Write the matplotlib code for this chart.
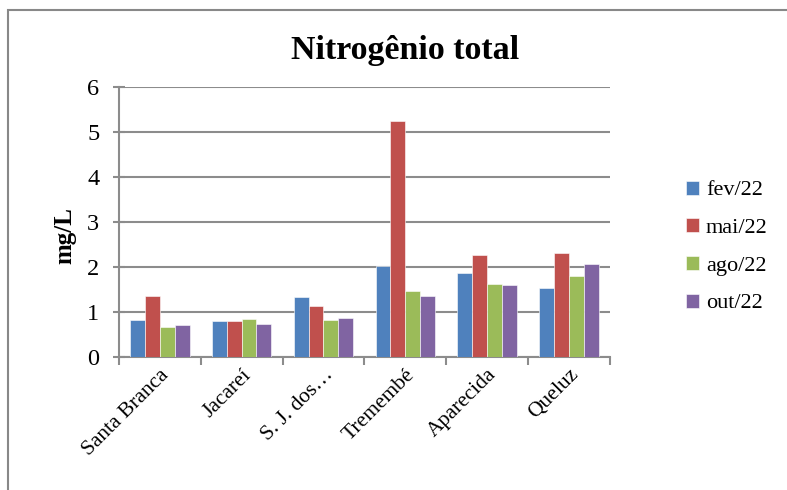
import matplotlib.pyplot as plt
import numpy as np
from matplotlib.patches import Rectangle

plt.rcParams['font.family'] = ['Liberation Serif', 'DejaVu Serif']

sites = ['Santa Branca', 'Jacareí', 'S. J. dos…', 'Tremembé', 'Aparecida', 'Queluz']
series_names = ['fev/22', 'mai/22', 'ago/22', 'out/22']
fev22 = [0.82, 0.80, 1.33, 2.02, 1.88, 1.54]
mai22 = [1.36, 0.81, 1.13, 5.25, 2.27, 2.32]
ago22 = [0.67, 0.84, 0.82, 1.47, 1.63, 1.80]
out22 = [0.71, 0.74, 0.87, 1.37, 1.61, 2.08]
y_ticks = [0, 1, 2, 3, 4, 5, 6]

colors = ['#4F81BD', '#C0504D', '#9BBB59', '#8064A2']
grid_c = '#8C8C8C'

fig = plt.figure(figsize=(7.87, 4.90), dpi=100)
ax = fig.add_axes([0.151, 0.271, 0.624, 0.551])

x = np.arange(len(sites))
w = 1 / 5.5
for i, (vals, name) in enumerate(zip([fev22, mai22, ago22, out22], series_names)):
    ax.bar(x + (i - 1.5) * w, vals, width=w, color=colors[i], label=name,
           edgecolor='white', linewidth=0.4, zorder=3)

ax.set_xlim(-0.5, len(sites) - 0.5)
ax.set_ylim(0, 6)
ax.set_yticks(y_ticks)
ax.set_yticklabels([str(t) for t in y_ticks], fontsize=17.5)
ax.yaxis.grid(True, color=grid_c, linewidth=1.5, zorder=0)
ax.set_axisbelow(True)

ax.set_xticks(np.arange(len(sites) + 1) - 0.5)
ax.set_xticklabels([])
ax.set_xticks(x, minor=True)
ax.set_xticklabels(sites, minor=True, rotation=45, ha='right',
                   rotation_mode='anchor', fontsize=15.5)
ax.tick_params(axis='x', which='minor', length=0, pad=6)
ax.tick_params(axis='x', which='major', length=6, width=1.5, color=grid_c)
ax.tick_params(axis='y', length=8, width=1.5, color=grid_c, direction='inout', pad=10)

for s in ['top', 'right']:
    ax.spines[s].set_visible(False)
for s in ['left', 'bottom']:
    ax.spines[s].set_color(grid_c)
    ax.spines[s].set_linewidth(1.5)

ax.set_ylabel('mg/L', fontsize=18, fontweight='bold')
ax.yaxis.set_label_coords(-0.087, 0.45)

fig.text(405 / 787, 1 - 50 / 490, 'Nitrogênio total', ha='center', va='center',
         fontsize=24.5, fontweight='bold')

leg = fig.legend(loc='center left', bbox_to_anchor=(666 / 787, 1 - 247 / 490),
                 frameon=False, fontsize=16, handlelength=0.6, handleheight=0.6,
                 handletextpad=0.3, labelspacing=0.8)

fig.patches.append(Rectangle((8 / 787, -0.1), 1.2, 1 - 10 / 490 + 0.1,
                             transform=fig.transFigure, fill=False,
                             edgecolor='#888888', linewidth=1.5))

fig.savefig('out.png', dpi=100)
